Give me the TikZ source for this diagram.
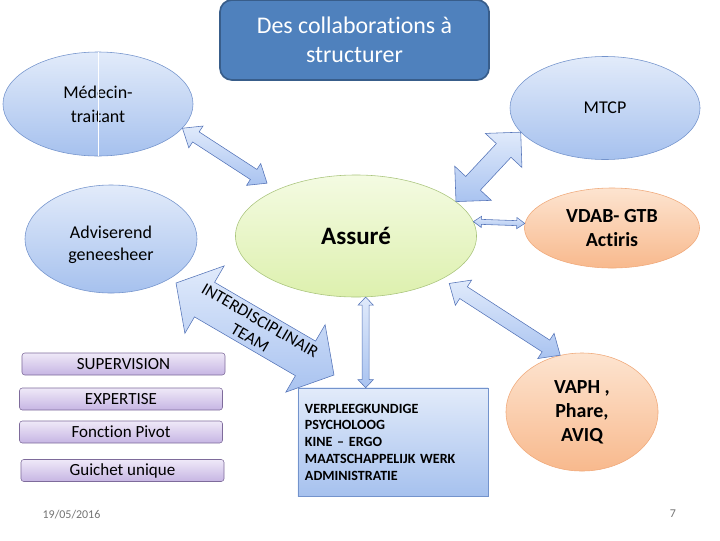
\documentclass[tikz,border=0pt]{standalone}
\usepackage{fontspec}
\setmainfont{Carlito}[Ligatures={TeX,NoCommon}]
\usepackage{tikz}
\usetikzlibrary{calc,shapes.geometric}
\definecolor{ttlfill}{HTML}{4F81BD}
\definecolor{ttldraw}{HTML}{385D8A}
\definecolor{bludraw}{HTML}{7393CC}
\definecolor{blutop}{HTML}{E2EBFA}
\definecolor{blubot}{HTML}{A6C1EE}
\definecolor{grndraw}{HTML}{A9C47C}
\definecolor{grntop}{HTML}{F4FBE2}
\definecolor{grnbot}{HTML}{DDF0AE}
\definecolor{orgdraw}{HTML}{F0A97A}
\definecolor{orgtop}{HTML}{FDE4D0}
\definecolor{orgbot}{HTML}{F8B98D}
\definecolor{purdraw}{HTML}{7E6B9B}
\definecolor{purtop}{HTML}{EFE9F8}
\definecolor{purbot}{HTML}{C6B5E3}
\definecolor{arrdraw}{HTML}{5574B8}
\definecolor{arrtop}{HTML}{E0EAFB}
\definecolor{arrbot}{HTML}{A9C3F0}
\tikzset{
  ttlbox/.style ={draw=ttldraw, line width=1.2pt, fill=ttlfill, rounded corners=0.3cm,
                  text=white, align=center, minimum width=6.725cm, minimum height=2cm,
                  font=\fontsize{17pt}{20.6pt}\selectfont},
  fell/.style   ={ellipse, inner sep=0pt, align=center, thin},
  bluell/.style ={fell, draw=bludraw, top color=blutop, bottom color=blubot,
                  font=\fontsize{12.8pt}{17pt}\selectfont},
  grnell/.style ={fell, draw=grndraw, top color=grntop, bottom color=grnbot,
                  font=\fontsize{17.8pt}{20pt}\selectfont\bfseries},
  orgell/.style ={fell, draw=orgdraw, top color=orgtop, bottom color=orgbot,
                  font=\fontsize{14.2pt}{17pt}\selectfont\bfseries},
  purbox/.style ={draw=purdraw, rounded corners=2pt, top color=purtop, bottom color=purbot,
                  minimum width=5.075cm, minimum height=0.55cm, inner sep=0pt,
                  font=\fontsize{12.1pt}{14pt}\selectfont},
  staffbox/.style={draw=bludraw, top color=blutop, bottom color=blubot,
                  minimum width=4.75cm, minimum height=2.7cm, text width=4.4cm,
                  align=left, font=\fontsize{10pt}{11.9pt}\selectfont\bfseries},
  blkarr/.style ={draw=arrdraw, thin, top color=arrtop, bottom color=arrbot, line join=miter},
  foot/.style   ={text=black!55, font=\fontsize{8.5pt}{10pt}\selectfont},
}
% double block arrow: style, from, to, half shaft, half head, head length
\newcommand{\blockarr}[6]{%
  \path[#1] (#2)
    -- ($(#2)!#6!(#3)!#5!90:(#3)$)
    -- ($(#2)!#6!(#3)!#4!90:(#3)$)
    -- ($(#3)!#6!(#2)!#4!-90:(#2)$)
    -- ($(#3)!#6!(#2)!#5!-90:(#2)$)
    -- (#3)
    -- ($(#3)!#6!(#2)!#5!90:(#2)$)
    -- ($(#3)!#6!(#2)!#4!90:(#2)$)
    -- ($(#2)!#6!(#3)!#4!-90:(#3)$)
    -- ($(#2)!#6!(#3)!#5!-90:(#3)$)
    -- cycle;}

\begin{document}
\begin{tikzpicture}[x=0.025cm, y=-0.025cm]
\useasboundingbox (0,0) rectangle (720,540);

\node[ttlbox] (title) at (354.5,40) {Des collaborations à\\structurer};

\node[bluell, minimum width=4.75cm, minimum height=2.6cm] (med) at (98,104) {Médecin-\\traitant};
\draw[white, thin] (med.north) -- (med.south);
\node[bluell, minimum width=4.75cm, minimum height=2.575cm] (mtcp) at (605,108) {MTCP};
\node[bluell, minimum width=4.3cm, minimum height=2.7cm] (adv) at (111,239) {};
\node[align=center, font=\fontsize{12.8pt}{15.6pt}\selectfont] (advtxt) at ($(adv)+(0,6)$)
  {Adviserend\\geneesheer};
\node[grnell, minimum width=6.025cm, minimum height=3.05cm] (ass) at (356,236) {Assuré};
\node[orgell, minimum width=4.375cm, minimum height=2cm] (vdab) at (612,228) {VDAB- GTB\\Actiris};
\node[orgell, minimum width=3.8cm, minimum height=2.95cm] (vaph) at (582,412) {VAPH ,\\Phare,\\AVIQ};

\node[staffbox] (staff) at (393,442)
  {VERPLEEGKUNDIGE\\PSYCHOLOOG\\KINE – ERGO\\MAATSCHAPPELIJK WERK\\ADMINISTRATIE};

\node[purbox] (sup) at (123.5,364) {SUPERVISION};
\node[purbox] (exp) at (121,399) {EXPERTISE};
\node[purbox] (piv) at (121,432) {Fonction Pivot};
\node[purbox] (gui) at (122.5,470.5) {Guichet unique};

% arrow ends
\coordinate (mA) at (med.-16);
\coordinate (mB) at ($(ass.149)+(-11,-6)$);
\coordinate (tA) at (ass.19);
\coordinate (tB) at (mtcp.196);
\coordinate (vA) at (ass.7);
\coordinate (vB) at (vdab.177);
\coordinate (pA) at ($(ass.-27)+(8,4)$);
\coordinate (pB) at (vaph.111);
\coordinate (sA) at (ass.-81);
\coordinate (sB) at (staff.north -| sA);
\coordinate (idtA) at (176,283);
\coordinate (idtB) at (334,375);

\blockarr{blkarr}{mA}{mB}{0.15cm}{0.325cm}{0.4cm}
\blockarr{blkarr}{tA}{tB}{0.25cm}{0.625cm}{0.625cm}
\blockarr{blkarr}{vA}{vB}{0.0625cm}{0.14cm}{0.2cm}
\blockarr{blkarr}{pA}{pB}{0.175cm}{0.375cm}{0.425cm}
\blockarr{blkarr}{sA}{sB}{0.0875cm}{0.19cm}{0.2cm}
\blockarr{blkarr}{idtA}{idtB}{0.5cm}{0.975cm}{0.825cm}
\node[rotate=-30.2, align=center, inner sep=0pt, font=\fontsize{12.1pt}{14.2pt}\selectfont]
  (idt) at ($(idtA)!0.5!(idtB)$) {INTERDISCIPLINAIR\\TEAM};

\node[foot] (date) at (71.5,515) {19/05/2016};
\node[foot] (pnum) at (673,514) {7};
\end{tikzpicture}
\end{document}
